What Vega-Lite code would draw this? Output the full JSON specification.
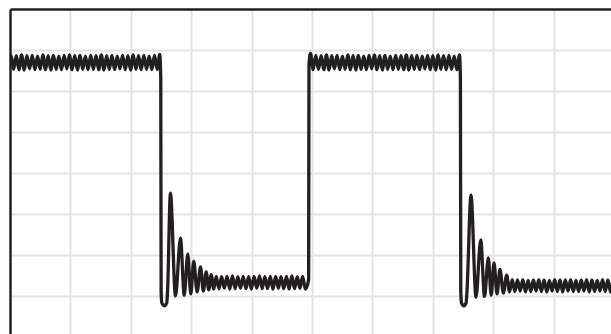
{
  "$schema": "https://vega.github.io/schema/vega-lite/v6.json",
  "width": 601,
  "height": 325,
  "autosize": {"type": "none"},
  "padding": {"left": 10, "top": 9, "right": 0, "bottom": 0},
  "background": "#ffffff",
  "config": {"view": {"stroke": null}},
  "data": {"values": [
    {"t": -2.8, "v": 2.52}, {"t": 1.6, "v": 2.87}, {"t": 6.0, "v": 2.53}, {"t": 10.4, "v": 2.86},
    {"t": 14.8, "v": 2.52}, {"t": 19.2, "v": 2.88}, {"t": 23.6, "v": 2.51}, {"t": 28.0, "v": 2.86},
    {"t": 32.4, "v": 2.54}, {"t": 36.8, "v": 2.87}, {"t": 41.2, "v": 2.52}, {"t": 45.6, "v": 2.85},
    {"t": 50.0, "v": 2.53}, {"t": 54.4, "v": 2.88}, {"t": 58.8, "v": 2.52}, {"t": 63.2, "v": 2.86},
    {"t": 67.6, "v": 2.51}, {"t": 72.0, "v": 2.87}, {"t": 76.4, "v": 2.53}, {"t": 80.8, "v": 2.85},
    {"t": 85.2, "v": 2.52}, {"t": 89.6, "v": 2.87}, {"t": 94.0, "v": 2.54}, {"t": 98.4, "v": 2.88},
    {"t": 102.8, "v": 2.52}, {"t": 107.2, "v": 2.86}, {"t": 111.6, "v": 2.51}, {"t": 116.0, "v": 2.87},
    {"t": 120.4, "v": 2.53}, {"t": 124.8, "v": 2.85}, {"t": 129.2, "v": 2.52}, {"t": 133.6, "v": 2.87},
    {"t": 138.0, "v": 2.53}, {"t": 142.4, "v": 2.86}, {"t": 146.8, "v": 2.52}, {"t": 151.2, "v": 2.88},
    {"t": 155.6, "v": 2.51}, {"t": 160.0, "v": 2.86}, {"t": 164.4, "v": 2.53}, {"t": 168.8, "v": 2.87},
    {"t": 173.2, "v": 2.52}, {"t": 177.6, "v": 2.85}, {"t": 182.0, "v": 2.54}, {"t": 186.4, "v": 2.87},
    {"t": 190.8, "v": 2.52}, {"t": 195.2, "v": 2.86}, {"t": 199.6, "v": 2.51}, {"t": 204.0, "v": 2.88},
    {"t": 208.4, "v": 2.53}, {"t": 212.8, "v": 2.86}, {"t": 217.2, "v": 2.52}, {"t": 221.6, "v": 2.87},
    {"t": 226.0, "v": 2.53}, {"t": 230.4, "v": 2.85}, {"t": 234.8, "v": 2.52}, {"t": 239.2, "v": 2.87},
    {"t": 243.6, "v": 2.53}, {"t": 248.0, "v": 2.89},
    {"t": 249.6, "v": 2.3}, {"t": 250.2, "v": -2.9}, {"t": 251.4, "v": -3.17}, {"t": 255.5, "v": -3.24},
    {"t": 259.5, "v": -3.17}, {"t": 260.8, "v": -2.9},
    {"t": 265.6, "v": -0.49}, {"t": 274.0, "v": -3.0}, {"t": 282.2, "v": -1.59}, {"t": 288.5, "v": -2.98},
    {"t": 294.3, "v": -1.98}, {"t": 299.3, "v": -2.95}, {"t": 304.2, "v": -2.15}, {"t": 309.8, "v": -2.9},
    {"t": 315.4, "v": -2.29}, {"t": 320.1, "v": -2.88}, {"t": 324.8, "v": -2.41}, {"t": 329.0, "v": -2.85},
    {"t": 333.1, "v": -2.48}, {"t": 337.3, "v": -2.83},
    {"t": 341.4, "v": -2.52}, {"t": 345.9, "v": -2.82}, {"t": 350.3, "v": -2.53}, {"t": 354.8, "v": -2.81},
    {"t": 359.3, "v": -2.52}, {"t": 363.8, "v": -2.83}, {"t": 368.2, "v": -2.51}, {"t": 372.7, "v": -2.82},
    {"t": 377.2, "v": -2.53}, {"t": 381.6, "v": -2.81}, {"t": 386.1, "v": -2.52}, {"t": 390.6, "v": -2.82},
    {"t": 395.1, "v": -2.53}, {"t": 399.5, "v": -2.83}, {"t": 404.0, "v": -2.52}, {"t": 408.5, "v": -2.81},
    {"t": 413.0, "v": -2.51}, {"t": 417.4, "v": -2.82}, {"t": 421.9, "v": -2.53}, {"t": 426.4, "v": -2.82},
    {"t": 430.9, "v": -2.52}, {"t": 435.3, "v": -2.83}, {"t": 439.8, "v": -2.52}, {"t": 444.3, "v": -2.81},
    {"t": 448.7, "v": -2.53}, {"t": 453.2, "v": -2.82}, {"t": 457.7, "v": -2.52}, {"t": 462.1, "v": -2.83},
    {"t": 466.6, "v": -2.51}, {"t": 471.1, "v": -2.82}, {"t": 475.6, "v": -2.53}, {"t": 480.0, "v": -2.81},
    {"t": 484.5, "v": -2.52}, {"t": 489.0, "v": -2.83},
    {"t": 494.4, "v": -2.6}, {"t": 495.0, "v": 2.65},
    {"t": 497.5, "v": 2.92}, {"t": 501.9, "v": 2.52}, {"t": 506.3, "v": 2.87}, {"t": 510.7, "v": 2.53},
    {"t": 515.1, "v": 2.86}, {"t": 519.5, "v": 2.52}, {"t": 523.9, "v": 2.88}, {"t": 528.3, "v": 2.51},
    {"t": 532.7, "v": 2.86}, {"t": 537.1, "v": 2.54}, {"t": 541.5, "v": 2.87}, {"t": 546.0, "v": 2.52},
    {"t": 550.4, "v": 2.85}, {"t": 554.8, "v": 2.53}, {"t": 559.2, "v": 2.88}, {"t": 563.6, "v": 2.52},
    {"t": 568.0, "v": 2.86}, {"t": 572.4, "v": 2.51}, {"t": 576.8, "v": 2.87}, {"t": 581.2, "v": 2.53},
    {"t": 585.6, "v": 2.85}, {"t": 590.0, "v": 2.52}, {"t": 594.4, "v": 2.87}, {"t": 598.8, "v": 2.54},
    {"t": 603.2, "v": 2.88}, {"t": 607.6, "v": 2.52}, {"t": 612.0, "v": 2.86}, {"t": 616.4, "v": 2.51},
    {"t": 620.8, "v": 2.87}, {"t": 625.2, "v": 2.53}, {"t": 629.6, "v": 2.85}, {"t": 634.1, "v": 2.52},
    {"t": 638.5, "v": 2.87}, {"t": 642.9, "v": 2.53}, {"t": 647.3, "v": 2.86}, {"t": 651.7, "v": 2.52},
    {"t": 656.1, "v": 2.88}, {"t": 660.5, "v": 2.51}, {"t": 664.9, "v": 2.86}, {"t": 669.3, "v": 2.53},
    {"t": 673.7, "v": 2.87}, {"t": 678.1, "v": 2.52}, {"t": 682.5, "v": 2.85}, {"t": 686.9, "v": 2.54},
    {"t": 691.3, "v": 2.87}, {"t": 695.7, "v": 2.52}, {"t": 700.1, "v": 2.86}, {"t": 704.5, "v": 2.51},
    {"t": 708.9, "v": 2.88}, {"t": 713.3, "v": 2.53}, {"t": 717.7, "v": 2.86}, {"t": 722.2, "v": 2.52},
    {"t": 726.6, "v": 2.87}, {"t": 731.0, "v": 2.53}, {"t": 735.4, "v": 2.85}, {"t": 739.8, "v": 2.52},
    {"t": 744.2, "v": 2.88},
    {"t": 745.7, "v": 2.3}, {"t": 746.3, "v": -2.9}, {"t": 747.5, "v": -3.17}, {"t": 751.3, "v": -3.24},
    {"t": 755.1, "v": -3.17}, {"t": 756.5, "v": -2.9},
    {"t": 763.2, "v": -0.54}, {"t": 771.5, "v": -3.03}, {"t": 779.3, "v": -1.63}, {"t": 785.6, "v": -3.01},
    {"t": 791.9, "v": -2.07}, {"t": 796.6, "v": -2.98}, {"t": 801.3, "v": -2.19}, {"t": 806.3, "v": -2.95},
    {"t": 811.2, "v": -2.35}, {"t": 816.8, "v": -2.93}, {"t": 822.3, "v": -2.49}, {"t": 827.0, "v": -2.9},
    {"t": 831.4, "v": -2.6}, {"t": 835.8, "v": -2.89}, {"t": 840.2, "v": -2.61}, {"t": 844.6, "v": -2.88},
    {"t": 849.0, "v": -2.6}, {"t": 853.4, "v": -2.9}, {"t": 857.8, "v": -2.62}, {"t": 862.2, "v": -2.89},
    {"t": 866.6, "v": -2.61}, {"t": 871.0, "v": -2.88}, {"t": 875.4, "v": -2.6}, {"t": 879.8, "v": -2.89},
    {"t": 884.2, "v": -2.61}, {"t": 888.6, "v": -2.9}, {"t": 893.0, "v": -2.62}, {"t": 897.4, "v": -2.88},
    {"t": 901.8, "v": -2.6}, {"t": 906.2, "v": -2.89}, {"t": 910.6, "v": -2.61}, {"t": 915.0, "v": -2.9},
    {"t": 919.4, "v": -2.61}, {"t": 923.8, "v": -2.88}, {"t": 928.2, "v": -2.6}, {"t": 932.6, "v": -2.89},
    {"t": 937.0, "v": -2.62}, {"t": 941.4, "v": -2.89}, {"t": 945.8, "v": -2.61}, {"t": 950.2, "v": -2.88},
    {"t": 954.6, "v": -2.6}, {"t": 959.0, "v": -2.9}, {"t": 963.4, "v": -2.61}, {"t": 967.8, "v": -2.89},
    {"t": 972.2, "v": -2.62}, {"t": 976.6, "v": -2.88}, {"t": 981.0, "v": -2.6}, {"t": 985.4, "v": -2.89},
    {"t": 989.8, "v": -2.61}, {"t": 994.2, "v": -2.9}, {"t": 998.6, "v": -2.61}, {"t": 1003.0, "v": -2.89}
  ]},
  "mark": {"type": "line", "interpolate": "monotone", "color": "#231f20", "strokeWidth": 3.3, "strokeJoin": "round", "strokeCap": "round", "clip": true},
  "encoding": {
    "x": {
      "field": "t", "type": "quantitative",
      "scale": {"domain": [0, 995], "nice": false, "zero": false},
      "axis": {"orient": "top", "values": [100, 200, 300, 400, 500, 600, 700, 800, 900], "ticks": false, "labels": false, "title": null,
               "domain": true, "domainColor": "#231f20", "domainWidth": 2.5, "grid": true, "gridColor": "#e3e3e3", "gridWidth": 2}
    },
    "y": {
      "field": "v", "type": "quantitative",
      "scale": {"domain": [-3.927, 4], "nice": false, "zero": false},
      "axis": {"orient": "left", "values": [-3, -2, -1, 0, 1, 2, 3], "ticks": false, "labels": false, "title": null,
               "domain": true, "domainColor": "#231f20", "domainWidth": 2.5, "grid": true, "gridColor": "#e3e3e3", "gridWidth": 2}
    }
  }
}
